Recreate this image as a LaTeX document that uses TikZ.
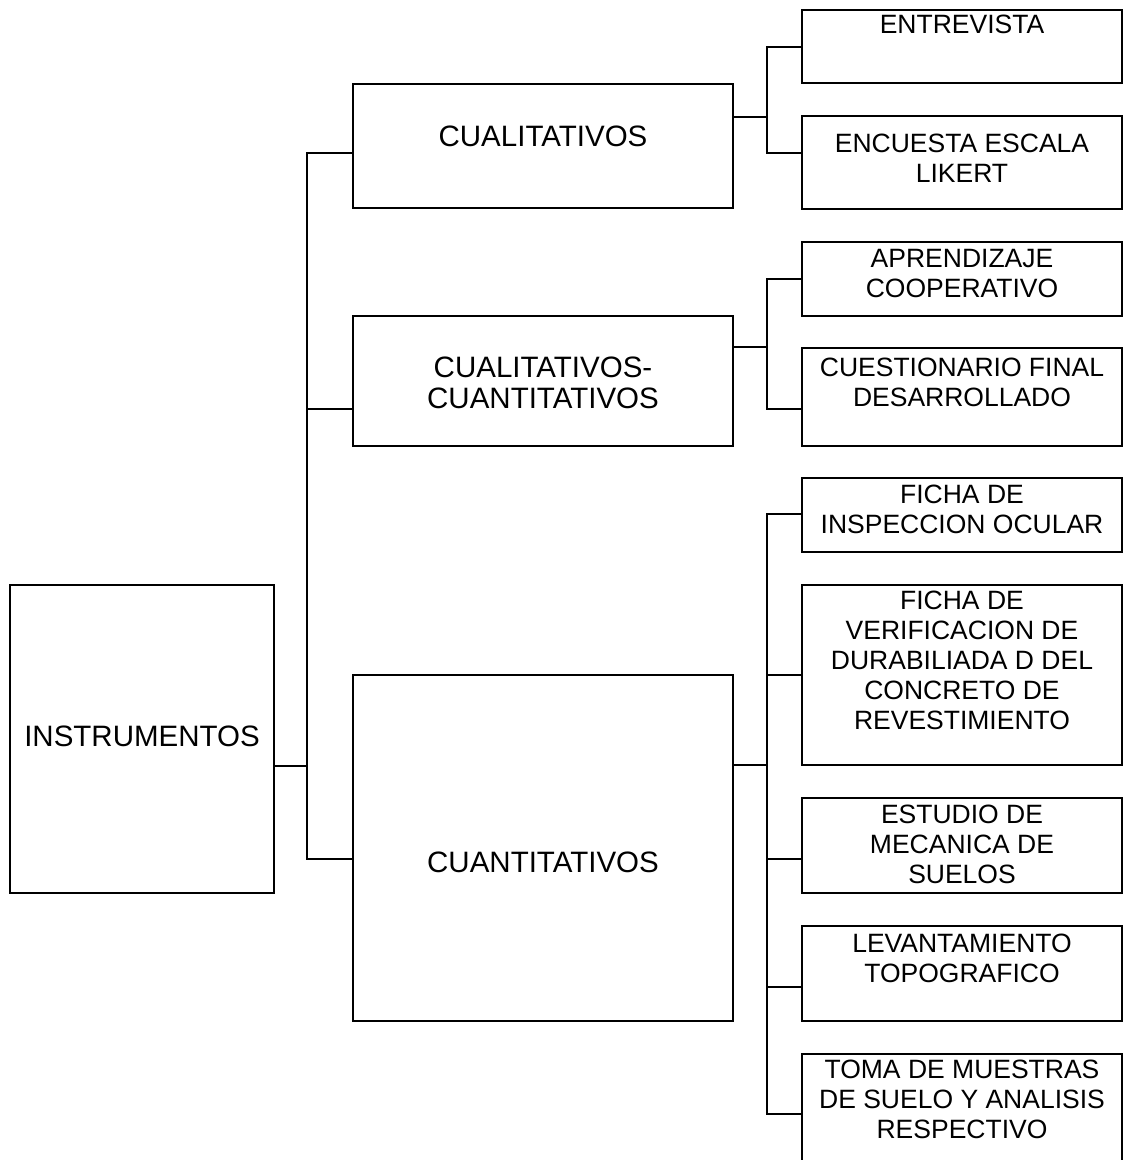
\documentclass[tikz,border=0pt]{standalone}
\usepackage{fontspec}
\setmainfont{Liberation Sans}
\begin{document}
\begin{tikzpicture}[x=1pt, y=-1pt,
  box/.style={draw, line width=2.8pt, rectangle, inner sep=0pt, outer sep=0pt},
  link/.style={line width=2.8pt, line cap=rect},
  bigtxt/.style={align=center, inner sep=0pt, anchor=base, font=\fontsize{29.5}{31}\selectfont},
  smalltxt/.style={align=center, inner sep=0pt, anchor=base, font=\fontsize{26.5}{30}\selectfont}]
\useasboundingbox (0,0) rectangle (1123,1160);

% boxes
\node[box, minimum width=264pt, minimum height=308pt] (instr) at (142,739) {};
\node[box, minimum width=380pt, minimum height=124pt] (cual) at (543,146) {};
\node[box, minimum width=380pt, minimum height=130pt] (mixto) at (543,381) {};
\node[box, minimum width=380pt, minimum height=346pt] (cuant) at (543,848) {};
\node[box, minimum width=320pt, minimum height=73pt] (entrev) at (962,46.5) {};
\node[box, minimum width=320pt, minimum height=93pt] (likert) at (962,162.5) {};
\node[box, minimum width=320pt, minimum height=74pt] (aprend) at (962,279) {};
\node[box, minimum width=320pt, minimum height=98pt] (cuest) at (962,397) {};
\node[box, minimum width=320pt, minimum height=74pt] (ocular) at (962,515) {};
\node[box, minimum width=320pt, minimum height=180pt] (verif) at (962,675) {};
\node[box, minimum width=320pt, minimum height=95pt] (suelos) at (962,845.5) {};
\node[box, minimum width=320pt, minimum height=95pt] (topo) at (962,973.5) {};
\node[box, minimum width=320pt, minimum height=121pt] (muestras) at (962,1114.5) {};

% labels (anchored at the baseline of their last line)
\node[bigtxt] (tinstr) at (142,746) {INSTRUMENTOS};
\node[bigtxt] (tcual) at (543,146) {CUALITATIVOS};
\node[bigtxt] (tmixto) at (543,408) {CUALITATIVOS-\\CUANTITATIVOS};
\node[bigtxt] (tcuant) at (543,872) {CUANTITATIVOS};
\node[smalltxt] (tentrev) at (962,33) {ENTREVISTA};
\node[smalltxt] (tlikert) at (962,182) {ENCUESTA ESCALA\\LIKERT};
\node[smalltxt] (taprend) at (962,297) {APRENDIZAJE\\COOPERATIVO};
\node[smalltxt] (tcuest) at (962,406) {CUESTIONARIO FINAL\\DESARROLLADO};
\node[smalltxt] (tocular) at (962,533) {FICHA DE\\INSPECCION OCULAR};
\node[smalltxt] (tverif) at (962,729) {FICHA DE\\VERIFICACION DE\\DURABILIADA D DEL\\CONCRETO DE\\REVESTIMIENTO};
\node[smalltxt] (tsuelos) at (962,883) {ESTUDIO DE\\MECANICA DE\\SUELOS};
\node[smalltxt] (ttopo) at (962,982) {LEVANTAMIENTO\\TOPOGRAFICO};
\node[smalltxt] (tmuestras) at (962,1138) {TOMA DE MUESTRAS\\DE SUELO Y ANALISIS\\RESPECTIVO};

% junction points of the main bus
\coordinate (m0) at (307,766);
\coordinate (m1) at (307,153);
\coordinate (m2) at (307,409);
\coordinate (m3) at (307,859);
\draw[link] (m0 -| instr.east) -- (m0);
\draw[link] (m1) -- (m3);
\draw[link] (m1) -- (m1 -| cual.west);
\draw[link] (m2) -- (m2 -| mixto.west);
\draw[link] (m3) -- (m3 -| cuant.west);

% qualitative branch
\coordinate (a0) at (767,117);
\coordinate (a1) at (767,47);
\coordinate (a2) at (767,153);
\draw[link] (a0 -| cual.east) -- (a0);
\draw[link] (a1) -- (a2);
\draw[link] (a1) -- (a1 -| entrev.west);
\draw[link] (a2) -- (a2 -| likert.west);

% mixed branch
\coordinate (b0) at (767,347);
\coordinate (b1) at (767,279);
\coordinate (b2) at (767,409);
\draw[link] (b0 -| mixto.east) -- (b0);
\draw[link] (b1) -- (b2);
\draw[link] (b1) -- (b1 -| aprend.west);
\draw[link] (b2) -- (b2 -| cuest.west);

% quantitative branch
\coordinate (c0) at (767,765);
\coordinate (c1) at (767,514);
\coordinate (c2) at (767,675);
\coordinate (c3) at (767,859);
\coordinate (c4) at (767,987);
\coordinate (c5) at (767,1114);
\draw[link] (c0 -| cuant.east) -- (c0);
\draw[link] (c1) -- (c5);
\draw[link] (c1) -- (c1 -| ocular.west);
\draw[link] (c2) -- (c2 -| verif.west);
\draw[link] (c3) -- (c3 -| suelos.west);
\draw[link] (c4) -- (c4 -| topo.west);
\draw[link] (c5) -- (c5 -| muestras.west);
\end{tikzpicture}
\end{document}
